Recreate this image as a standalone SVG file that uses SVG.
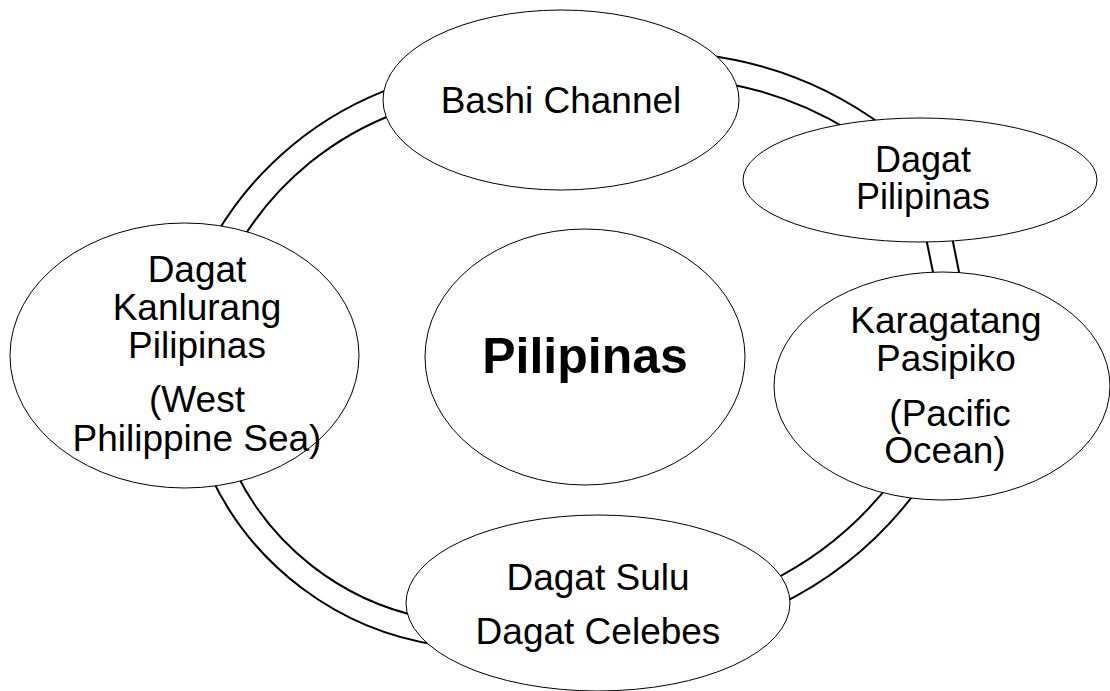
<svg xmlns="http://www.w3.org/2000/svg" width="1110" height="691" viewBox="0 0 1110 691">
<style>
.ring{fill:none;stroke:#000;stroke-width:2}
.node{fill:#fff;stroke:#000;stroke-width:1}
.t{font-family:"Liberation Sans",Arial,sans-serif;font-size:37px;fill:#000;text-anchor:middle}
.b{font-weight:bold;font-size:50px}
.s{font-size:36px}
</style>
<rect width="1110" height="691" fill="#fff"/>
<g id="connectors">
<path class="ring" d="M214.9,236.6 A340,340 0 0 1 396.9,86.4"/>
<path class="ring" d="M241.5,240.4 A310,310 0 0 1 398.8,112.2"/>
<path class="ring" d="M702,54.7 A380,380 0 0 1 885.4,127.5"/>
<path class="ring" d="M723.3,82.9 A355,355 0 0 1 851,131.4"/>
<path class="ring" d="M951,232 L961,282"/>
<path class="ring" d="M925,233 L935,282"/>
<path class="ring" d="M919.3,487.2 A380,380 0 0 1 776.8,606"/>
<path class="ring" d="M891.7,481.5 A355,355 0 0 1 766.8,583.1"/>
<path class="ring" d="M437.7,645 A300,300 0 0 1 210,474.7"/>
<path class="ring" d="M421.5,617 A270,270 0 0 1 235.7,472"/>
</g>
<g id="bashi">
<ellipse class="node" cx="561" cy="100" rx="178" ry="90"/>
<text class="t" x="561" y="113">Bashi Channel</text>
</g>
<g id="dagat-pilipinas">
<ellipse class="node" cx="920" cy="180" rx="177" ry="62"/>
<text class="t s" x="923" y="172">Dagat</text>
<text class="t s" x="923" y="209">Pilipinas</text>
</g>
<g id="kanlurang">
<ellipse class="node" cx="184.5" cy="355.5" rx="174.5" ry="132.5"/>
<text class="t" x="197" y="282">Dagat</text>
<text class="t" x="197" y="320">Kanlurang</text>
<text class="t" x="197" y="358">Pilipinas</text>
<text class="t" x="197" y="412">(West</text>
<text class="t" x="197" y="451">Philippine Sea)</text>
</g>
<g id="center">
<ellipse class="node" cx="585" cy="357" rx="160" ry="128"/>
<text class="t b" x="585" y="373">Pilipinas</text>
</g>
<g id="pasipiko">
<ellipse class="node" cx="942" cy="386" rx="168" ry="114"/>
<text class="t" x="946" y="333">Karagatang</text>
<text class="t" x="946" y="371">Pasipiko</text>
<text class="t" x="950" y="426">(Pacific</text>
<text class="t" x="945" y="463">Ocean)</text>
</g>
<g id="sulu">
<ellipse class="node" cx="598" cy="603" rx="192" ry="88"/>
<text class="t" x="598" y="590">Dagat Sulu</text>
<text class="t" x="598" y="644">Dagat Celebes</text>
</g>
</svg>
